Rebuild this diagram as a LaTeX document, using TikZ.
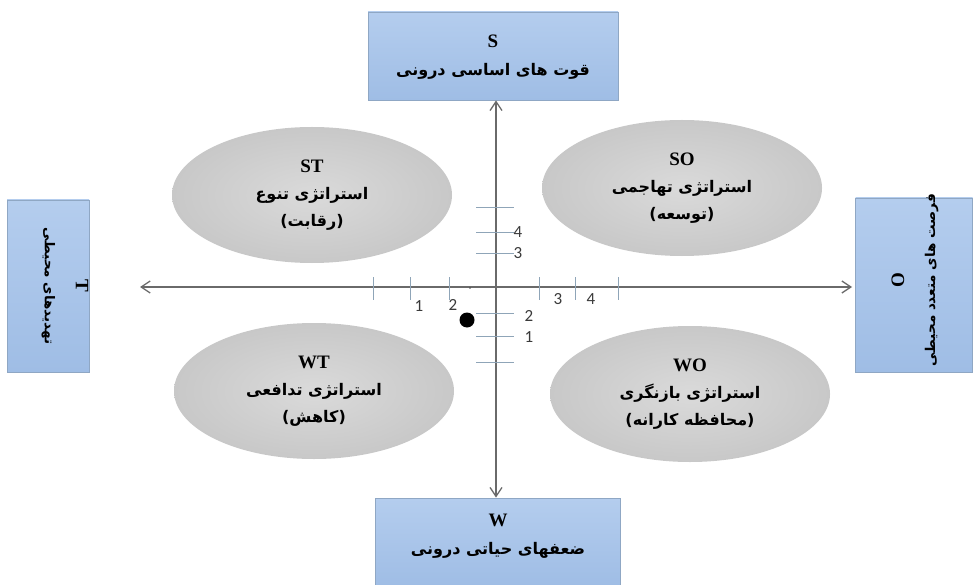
\documentclass[tikz,border=0pt]{standalone}
\usepackage{fontspec}
\setmainfont{Liberation Serif}
\newfontfamily\fa[Script=Arabic]{DejaVu Sans}
\newfontfamily\numfont{Carlito}
\TeXXeTstate=1
\usetikzlibrary{shapes.geometric,arrows.meta}
\definecolor{boxtop}{HTML}{B4CDEE}
\definecolor{boxbot}{HTML}{9FBDE5}
\definecolor{boxline}{HTML}{8FA7C4}
\definecolor{ellin}{HTML}{DADADA}
\definecolor{ellout}{HTML}{C8C8C8}
\definecolor{axisgray}{HTML}{6A6A6A}
\definecolor{tickblue}{HTML}{8FA5B8}
\definecolor{numgray}{HTML}{3A3A3A}
\newcommand\fatext[1]{{\fa\bfseries\beginR #1\endR}}
\newcommand\lat[1]{{\fontsize{19}{19}\selectfont\bfseries #1}}
\tikzset{
  bluebox/.style={rectangle, draw=boxline, line width=0.8pt, top color=boxtop, bottom color=boxbot, inner sep=0pt},
  quad/.style={ellipse, draw=none, inner color=ellin, outer color=ellout, minimum width=280, minimum height=136, align=center, font=\fontsize{16}{27}\selectfont},
  boxtext/.style={align=center, font=\fontsize{16}{28}\selectfont},
  sidetext/.style={align=center, font=\fontsize{13.5}{31}\selectfont},
  axisline/.style={draw=axisgray, line width=1.3pt, {Straight Barb[length=9pt,width=12pt,line width=1.3pt]}-{Straight Barb[length=9pt,width=12pt,line width=1.3pt]}},
  tickline/.style={draw=tickblue, line width=1pt},
  numlabel/.style={text=numgray, font=\numfont\fontsize{17}{17}\selectfont, inner sep=0pt}
}
\begin{document}
\begin{tikzpicture}[x=1pt,y=-1pt]
\useasboundingbox (0,0) rectangle (973,585);
\fill[white] (0,0) rectangle (973,585);

% quadrant ellipses
\node[quad] (ST) at (312,195) {\lat{ST}\\ \fatext{استراتژی تنوع}\\ \fatext{(رقابت)}};
\node[quad] (SO) at (682,188) {\lat{SO}\\ \fatext{استراتژی تهاجمی}\\ \fatext{(توسعه)}};
\node[quad] (WT) at (314,391) {\lat{WT}\\ \fatext{استراتژی تدافعی}\\ \fatext{(کاهش)}};
\node[quad] (WO) at (690,394) {\lat{WO}\\ \fatext{استراتژی بازنگری}\\ \fatext{(محافظه کارانه)}};

% boxes
\node[bluebox, minimum width=250, minimum height=88] (S) at (493,56) {};
\node[boxtext] (Stxt) at (493,57) {\lat{S}\\ \fatext{قوت های اساسی درونی}};
\node[bluebox, minimum width=245, minimum height=88] (W) at (498,542) {};
\node[boxtext] (Wtxt) at (498,536) {\lat{W}\\ \fatext{ضعفهای حیاتی درونی}};
\node[bluebox, minimum width=82, minimum height=172] (I) at (48,286) {};
\node[sidetext, rotate=-90] (Itxt) at (65,286) {\lat{T}\\ \fatext{تهدیدهای محیطی}};
\node[bluebox, minimum width=117, minimum height=174] (O) at (914,285) {};
\node[sidetext, rotate=90] (Otxt) at (915,280) {\lat{O}\\ \fatext{فرصت های متعدد محیطی}};

% axes
\coordinate (org) at (496,287);
\coordinate (hl) at (140,287);
\coordinate (hr) at (852,287);
\draw[axisline] (S.south -| org) -- (W.north -| org);
\draw[axisline] (hl) -- (hr);

% ticks on vertical axis
\foreach \y in {208,232,253,313,336,362}
  \draw[tickline] (476,\y) -- (514,\y);
% ticks on horizontal axis
\foreach \x in {373,410,449,539,575,618}
  \draw[tickline] (\x,277) -- (\x,300);

% numbers
\node[numlabel] (n4v) at (518,232) {4};
\node[numlabel] (n3v) at (518,253) {3};
\node[numlabel] (n2v) at (529,316) {2};
\node[numlabel] (n1v) at (529,337) {1};
\node[numlabel] (n1h) at (419,306) {1};
\node[numlabel] (n2h) at (453,305) {2};
\node[numlabel] (n3h) at (558,299) {3};
\node[numlabel] (n4h) at (591,299) {4};

% position point
\fill[black] (467,320) circle[radius=7.5];
\fill[black!70] (470,288) circle[radius=0.9];
\end{tikzpicture}
\end{document}
